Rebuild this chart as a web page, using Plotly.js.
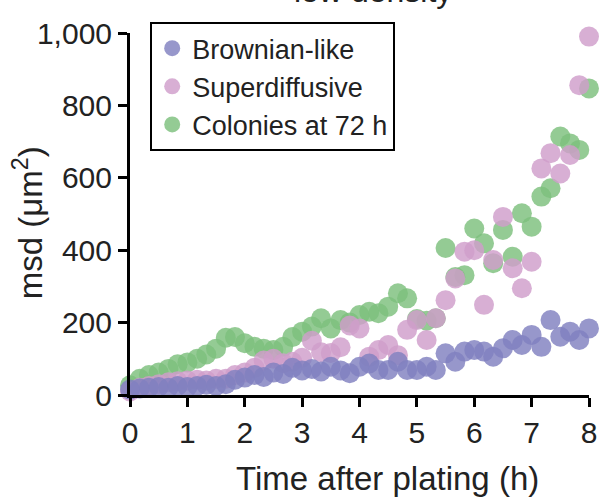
<!DOCTYPE html>
<html>
<head>
<meta charset="utf-8">
<script src="https://cdn.plot.ly/plotly-3.0.1.min.js"></script>
<style>html,body{margin:0;padding:0;background:#fff;}#chart{width:602px;height:498px;}</style>
</head>
<body>
<div id="chart"></div>
<script>
var timeH = [0, 0.17, 0.33, 0.5, 0.67, 0.83, 1, 1.17, 1.33, 1.5, 1.67, 1.83, 2, 2.17, 2.33, 2.5, 2.67, 2.83, 3, 3.17, 3.33, 3.5, 3.67, 3.83, 4, 4.17, 4.33, 4.5, 4.67, 4.83, 5, 5.17, 5.33, 5.5, 5.67, 5.83, 6, 6.17, 6.33, 6.5, 6.67, 6.83, 7, 7.17, 7.33, 7.5, 7.67, 7.83, 8];
var brownian = [15, 18, 20, 22, 20, 25, 22, 25, 28, 25, 30, 42, 48, 55, 50, 62, 58, 75, 68, 72, 65, 78, 68, 60, 78, 87, 69, 69, 92, 69, 69, 78, 69, 115, 92, 120, 124, 120, 106, 129, 152, 138, 166, 133, 207, 161, 175, 152, 184];
var superdiffusive = [10, 20, 25, 30, 35, 38, 40, 42, 40, 45, 45, 55, 62, 75, 95, 100, 88, 92, 103, 150, 118, 116, 132, 192, 184, 106, 124, 138, 110, 180, 207, 152, 212, 262, 322, 396, 400, 249, 373, 492, 350, 295, 368, 626, 668, 612, 663, 856, 990];
var colonies = [27, 45, 55, 62, 72, 85, 90, 100, 112, 128, 158, 160, 143, 133, 128, 124, 133, 160, 175, 189, 212, 184, 207, 200, 221, 230, 226, 244, 281, 267, 210, 205, 212, 406, 326, 331, 460, 419, 364, 456, 382, 502, 465, 548, 571, 714, 695, 677, 847];
var seriesNames = ["Brownian-like", "Superdiffusive", "Colonies at 72 h"];
var yTicks = [0, 200, 400, 600, 800, 1000];
var xTicks = [0, 1, 2, 3, 4, 5, 6, 7, 8];

var FONT = "Liberation Sans, Arial, Helvetica, sans-serif";
function tr(name, y, color) {
  return {
    type: "scatter", mode: "markers", name: name, x: timeH, y: y,
    cliponaxis: false,
    marker: {size: 20, color: color, opacity: 0.82, line: {width: 0}}
  };
}
var data = [
  tr(seriesNames[2], colonies, "rgb(125,192,125)"),
  tr(seriesNames[1], superdiffusive, "rgb(208,158,202)"),
  tr(seriesNames[0], brownian, "rgb(128,128,192)")
];
var layout = {
  width: 602, height: 498,
  margin: {l: 130, r: 13, t: 33, b: 103},
  paper_bgcolor: "#fff", plot_bgcolor: "#fff",
  font: {family: FONT, color: "#222", size: 26},
  showlegend: true,
  legend: {
    x: 0.044, y: 1.03, xanchor: "left", yanchor: "top",
    traceorder: "reversed",
    bordercolor: "#000", borderwidth: 2, bgcolor: "#fff",
    font: {family: FONT, size: 27, color: "#222"},
    itemwidth: 30, tracegroupgap: 0
  },
  xaxis: {
    range: [0, 8], tickvals: xTicks, ticks: "outside", ticklen: 9, tickwidth: 3,
    showline: true, linewidth: 3, linecolor: "#000", tickcolor: "#000",
    showgrid: false, zeroline: false,
    tickfont: {family: FONT, size: 30, color: "#222"}
  },
  yaxis: {
    range: [0, 1000], tickvals: yTicks, tickformat: ",d", ticks: "outside", ticklen: 9, tickwidth: 3,
    showline: true, linewidth: 3, linecolor: "#000", tickcolor: "#000",
    showgrid: false, zeroline: false,
    tickfont: {family: FONT, size: 30, color: "#222"}
  },
  annotations: [
    {text: "low density", xref: "paper", yref: "paper", x: 0.53, y: 1.06, xanchor: "center", yanchor: "bottom", showarrow: false, font: {family: FONT, size: 32, color: "#222"}},
    {text: "Time after plating (h)", xref: "paper", yref: "paper", x: 0.562, y: -0.232, xanchor: "center", yanchor: "middle", showarrow: false, font: {family: FONT, size: 33, color: "#222"}},
    {text: "msd (μm<sup>2</sup>)", xref: "paper", yref: "paper", x: -0.222, y: 0.475, xanchor: "center", yanchor: "middle", textangle: -90, showarrow: false, font: {family: FONT, size: 33, color: "#222"}}
  ]
};
Plotly.newPlot("chart", data, layout, {displayModeBar: false, staticPlot: true});
</script>
</body>
</html>
